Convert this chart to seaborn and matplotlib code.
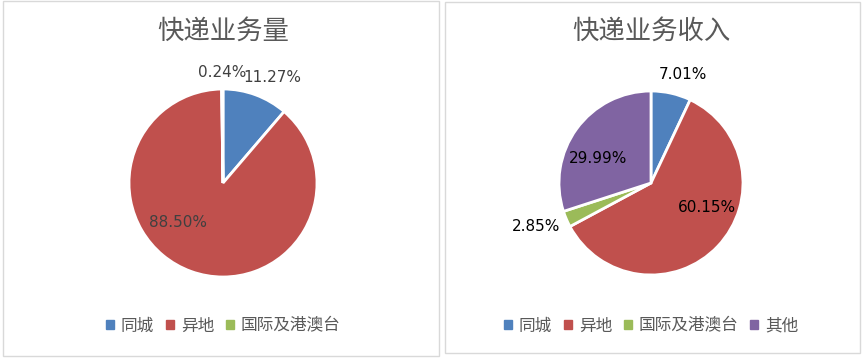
import numpy as np
import matplotlib
matplotlib.use("Agg")
import matplotlib.pyplot as plt
import matplotlib.patches as mpatches
import seaborn as sns

# -----------------------------
# Data
# -----------------------------
vol_title = "快递业务量"
vol_labels = ["同城", "异地", "国际及港澳台"]
vol_values = [11.27, 88.50, 0.24]

rev_title = "快递业务收入"
rev_labels = ["同城", "异地", "国际及港澳台", "其他"]
rev_values = [7.01, 60.15, 2.85, 29.99]

colors = ["#4F81BD", "#C0504D", "#9BBB59", "#8064A2"]

# label positions (pie radius units, relative to centre), Excel "best fit" style
vol_label_pos = [(0.52, 1.12), (-0.48, -0.42), (-0.01, 1.18)]
rev_label_pos = [(0.35, 1.18), (0.61, -0.27), (-1.25, -0.47), (-0.58, 0.27)]

sns.set_theme(style="white")
plt.rcParams["font.family"] = ["DejaVu Sans", "Noto Sans CJK SC"]

W, H = 863, 358
fig = plt.figure(figsize=(W / 100, H / 100), dpi=100)
fig.patch.set_facecolor("white")

# chart frames (pixel boxes: x0, y0 top, x1, y1 bottom)
for x0, y0, x1, y1 in [(3, 1, 439, 356), (445, 2, 860, 353)]:
    fig.patches.append(mpatches.Rectangle(
        (x0 / W, 1 - y1 / H), (x1 - x0) / W, (y1 - y0) / H,
        transform=fig.transFigure, facecolor="none", edgecolor="#D9D9D9", lw=1, zorder=-1))


def draw_pie(cx, cy, r, title, labels, values, label_pos, txt_color):
    lim = 1.6
    half = lim * r
    ax = fig.add_axes([(cx - half) / W, (H - cy - half) / H, 2 * half / W, 2 * half / H])
    ax.patch.set_alpha(0)
    ax.pie(values, colors=colors[:len(values)], startangle=90, counterclock=False,
           wedgeprops={"edgecolor": "white", "linewidth": 2})
    ax.set_xlim(-lim, lim)
    ax.set_ylim(-lim, lim)
    ax.axis("off")
    for v, (px, py) in zip(values, label_pos):
        ax.text(px, py, f"{v:.2f}%", ha="center", va="center", fontsize=11, color=txt_color)
    fig.text(cx / W, 1 - 31 / H, title, ha="center", va="center", fontsize=19,
             color="#595959", family=["Noto Sans CJK SC"])
    handles = [mpatches.Patch(color=c, label=l) for c, l in zip(colors, labels)]
    fig.legend(handles=handles, loc="center", bbox_to_anchor=(cx / W, 1 - 326 / H),
               ncol=len(labels), frameon=False, handlelength=0.5, handleheight=0.5,
               handletextpad=0.4, columnspacing=0.7,
               prop={"family": ["Noto Sans CJK SC"], "size": 12}, labelcolor="#595959")


draw_pie(223, 183, 94, vol_title, vol_labels, vol_values, vol_label_pos, "#404040")
draw_pie(651, 183, 92, rev_title, rev_labels, rev_values, rev_label_pos, "black")

fig.savefig("out.png", dpi=100)
